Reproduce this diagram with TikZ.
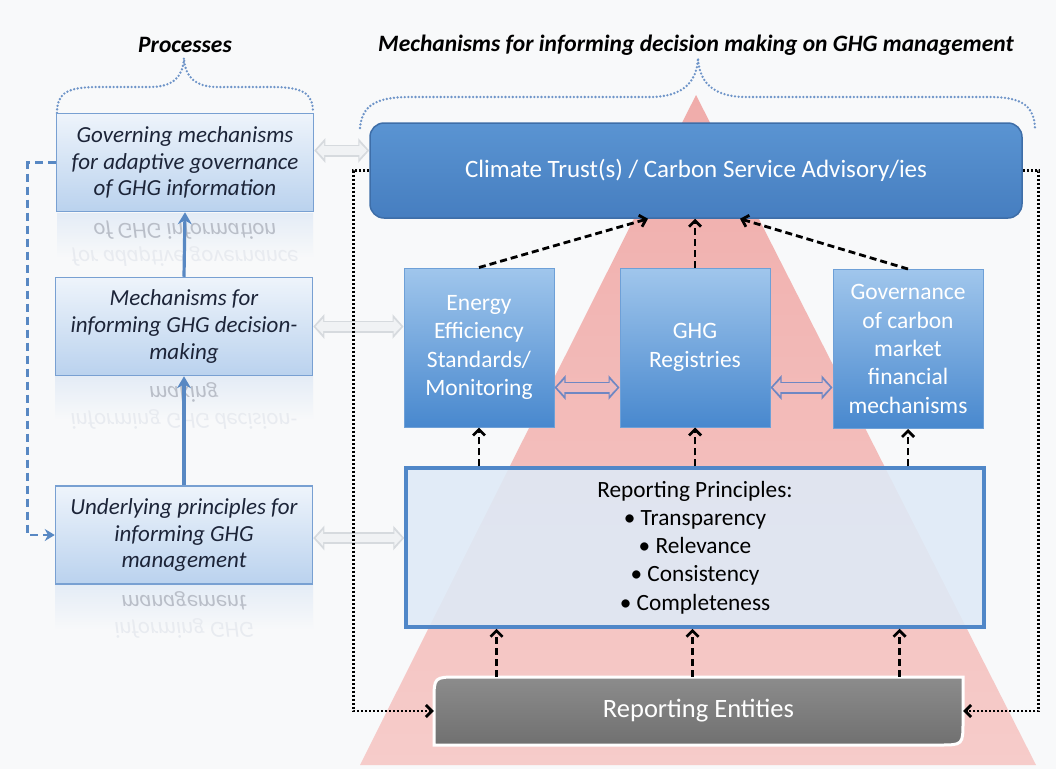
\documentclass[tikz,border=0pt]{standalone}
\usepackage{fontspec}
\setmainfont{Carlito}
\usetikzlibrary{arrows.meta,calc}
\definecolor{bg}{RGB}{248,249,250}
\definecolor{lbord}{RGB}{120,160,210}
\definecolor{ltop}{RGB}{238,244,251}
\definecolor{lbot}{RGB}{186,210,238}
\definecolor{ltext}{RGB}{28,36,56}
\definecolor{reflc}{RGB}{228,236,246}
\definecolor{climtop}{RGB}{90,148,210}
\definecolor{climbot}{RGB}{70,126,192}
\definecolor{climbord}{RGB}{62,110,168}
\definecolor{midtop}{RGB}{160,198,236}
\definecolor{midbot}{RGB}{72,136,206}
\definecolor{midbord}{RGB}{110,160,215}
\definecolor{rpfill}{RGB}{222,234,247}
\definecolor{rpbord}{RGB}{80,135,200}
\definecolor{pinktop}{RGB}{240,172,170}
\definecolor{pinkbot}{RGB}{246,204,202}
\definecolor{retop}{RGB}{140,140,140}
\definecolor{rebot}{RGB}{112,112,112}
\definecolor{bluearr}{RGB}{88,136,195}
\definecolor{brace}{RGB}{110,148,200}
\definecolor{gborder}{RGB}{214,218,222}
\definecolor{gfill}{RGB}{240,242,244}
\definecolor{mborder}{RGB}{110,135,195}
\definecolor{mfill}{RGB}{236,186,190}
\definecolor{reflA}{RGB}{185,190,200}
\definecolor{reflB}{RGB}{232,235,240}
\begin{document}
\begin{tikzpicture}[x=1pt,y=-1pt,
  titletext/.style={font=\fontsize{23.5}{28}\selectfont\bfseries\itshape, text=black, inner sep=0pt},
  leftbox/.style={draw=lbord, line width=1.5, top color=ltop, bottom color=lbot, text=ltext,
    font=\fontsize{23}{26.7}\selectfont\itshape, align=center, inner sep=0pt,
    minimum width=257, minimum height=98},
  refltext/.style={yscale=-1, font=\fontsize{23}{26.7}\selectfont\itshape, inner sep=0pt},
  climbox/.style={draw=climbord, line width=1.5, rounded corners=14, top color=climtop, bottom color=climbot,
    text=white, font=\fontsize{25}{30}\selectfont, minimum width=652, minimum height=95},
  midbox/.style={draw=midbord, line width=1, top color=midtop, bottom color=midbot, text=white,
    font=\fontsize{23.5}{28.4}\selectfont, align=center, inner sep=0pt, minimum width=150, minimum height=159},
  rpbox/.style={draw=rpbord, line width=3.5, fill=rpfill, fill opacity=0.88, text opacity=1, text=black,
    font=\fontsize{23.3}{28.2}\selectfont, align=center, inner sep=0pt, minimum width=578, minimum height=159},
  dasharrow/.style={draw=black, line width=2.8, dash pattern=on 7pt off 4pt, -{Straight Barb[length=6pt,width=12pt]}},
  dotarrow/.style={draw=black, line width=2.8, dash pattern=on 2.2pt off 1.8pt, -{Straight Barb[length=6pt,width=12pt]}},
  bluearrow/.style={draw=bluearr, line width=3.2, -{Stealth[length=12pt,width=14pt]}},
  bluedash/.style={draw=bluearr, line width=2.8, dash pattern=on 8pt off 5pt, -{Stealth[length=10pt,width=12pt]}},
  bracestyle/.style={draw=brace, line width=2.6, dash pattern=on 0pt off 3.6pt, line cap=round},
  hollowdbl/.style n args={2}{
    preaction={draw=#1, line width=12, shorten >=0pt, shorten <=0pt,
      {Triangle[length=11pt,width=24pt]}-{Triangle[length=11pt,width=24pt]}},
    draw=#2, line width=8.5, shorten >=2.3pt, shorten <=2.3pt,
    {Triangle[length=7.6pt,width=15.6pt]}-{Triangle[length=7.6pt,width=15.6pt]}},
]
\useasboundingbox (0,0) rectangle (1056,769);
\fill[bg] (0,0) rectangle (1056,769);

% pyramid
\shade[top color=pinktop, bottom color=pinkbot] (696,95) -- (1036,765) -- (360,765) -- cycle;

% titles
\node[titletext] (tproc) at (185,45) {Processes};
\node[titletext] (tmech) at (696,45) {Mechanisms for informing decision making on GHG management};

% braces
\draw[bracestyle] (57,113) .. controls (57,92) and (68,87) .. (100,87) -- (150,87)
  .. controls (174,87) and (183,76) .. (184,58)
  .. controls (185,76) and (194,87) .. (218,87) -- (270,87)
  .. controls (302,87) and (313,92) .. (313,113);
\draw[bracestyle] (360,128) .. controls (362,106) and (375,97) .. (410,97) -- (650,97)
  .. controls (685,97) and (697,80) .. (698,58)
  .. controls (699,80) and (711,97) .. (746,97) -- (990,97)
  .. controls (1022,97) and (1034,106) .. (1035,128);

% left reflections
\shade[top color=reflc, bottom color=bg] (57,213) rectangle (313,258);
\shade[top color=reflc, bottom color=bg] (55,376) rectangle (313,420);
\shade[top color=reflc, bottom color=bg] (55,584) rectangle (313,630);
\node[refltext, text=reflA] (rf1a) at (185,230) {of GHG information};
\node[refltext, text=reflB] (rf1b) at (185,257) {for adaptive governance};
\node[refltext, text=reflA] (rf2a) at (184,393) {making};
\node[refltext, text=reflB] (rf2b) at (184,420) {informing GHG decision-};
\node[refltext, text=reflA] (rf3a) at (184,601) {management};
\node[refltext, text=reflB] (rf3b) at (184,628) {informing GHG};

% left boxes
\node[leftbox] (gov) at (185,162.5) {Governing mechanisms\\for adaptive governance\\of GHG information};
\node[leftbox] (mech) at (184,326.5) {Mechanisms for\\informing GHG decision-\\making};
\node[leftbox] (und) at (184,535) {Underlying principles for\\informing GHG\\management};

% right boxes
\node[climbox] (climate) at (696,170.5) {Climate Trust(s) / Carbon Service Advisory/ies};
\node[midbox] (energy) at (479,347.5) {Energy\\Efficiency\\Standards/\\Monitoring};
\node[midbox] (ghg) at (695,347.5) {GHG\\Registries};
\node[midbox] (govc) at (908,349) {Governance\\of carbon\\market\\financial\\mechanisms};
\node[rpbox] (rp) at (695,547.5) {Reporting Principles:\\\textbullet\ Transparency\\\textbullet\ Relevance\\\textbullet\ Consistency\\\textbullet\ Completeness};

% reporting entities
\coordinate (reNW) at (434,677);
\coordinate (reSE) at (963,745);
\draw[draw=white, line width=3, top color=retop, bottom color=rebot]
  (reSE -| reNW) -- ([yshift=-24]reNW) .. controls (reNW) .. ([xshift=24]reNW)
  -- (reNW -| reSE) -- ([yshift=24]reSE) .. controls (reSE) .. ([xshift=-24]reSE) -- cycle;
\node[text=white, font=\fontsize{26.5}{31}\selectfont, inner sep=0pt, minimum width=529, minimum height=68]
  (re) at ($(reNW)!0.5!(reSE)$) {Reporting Entities};

% hollow double arrows
\draw[hollowdbl={gborder}{gfill}] ([yshift=12]gov.east) -- ([yshift=12]gov.east -| climate.west);
\draw[hollowdbl={gborder}{gfill}] (mech.east) -- (mech.east -| energy.west);
\draw[hollowdbl={gborder}{gfill}] ([yshift=-3]und.east) -- ([yshift=-3]und.east -| rp.west);
\draw[hollowdbl={mborder}{mfill}] ([yshift=-40]energy.east) -- ([yshift=-40]energy.east -| ghg.west);
\draw[hollowdbl={mborder}{mfill}] ([yshift=-40]ghg.east) -- ([yshift=-40]ghg.east -| govc.west);

% dashed black arrows
\draw[dasharrow] (energy.north) -- ([xshift=-48]climate.south);
\draw[dasharrow] (ghg.north) -- (ghg.north |- climate.south);
\draw[dasharrow] (govc.north) -- ([xshift=44]climate.south);
\draw[dasharrow] (energy.south |- rp.north) -- (energy.south);
\draw[dasharrow] (ghg.south |- rp.north) -- (ghg.south);
\draw[dasharrow] (govc.south |- rp.north) -- (govc.south);
\draw[dasharrow] ([xshift=-202]re.north) -- ([xshift=-202]re.north |- rp.south);
\draw[dasharrow] ([xshift=-6]re.north) -- ([xshift=-6]re.north |- rp.south);
\draw[dasharrow] ([xshift=201]re.north) -- ([xshift=201]re.north |- rp.south);

% dotted feedback
\draw[dotarrow] (climate.west) -- ++(-16,0) |- (re.west);
\draw[dotarrow] (climate.east) -- ++(16,0) |- (re.east);

% left blue arrows
\draw[bluearrow] (und.north) -- (mech.south);
\draw[bluearrow] (mech.north) -- (gov.south);
\draw[bluedash] (gov.west) -- ++(-28,0) |- (und.west);
\end{tikzpicture}
\end{document}
